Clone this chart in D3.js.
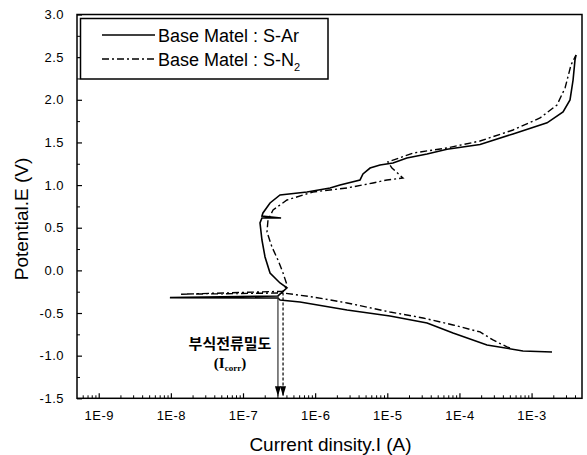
<!DOCTYPE html>
<html><head><meta charset="utf-8">
<script src="https://cdn.jsdelivr.net/npm/d3@7"></script>
<style>
html,body{margin:0;padding:0;background:#fff;}
svg{display:block;font-family:"Liberation Sans",Arial,sans-serif;}
</style></head>
<body><svg id="c" width="587" height="455"></svg>
<script>
// ---- data (current in A, potential in V) ----
const seriesNames = ["Base Matel : S-Ar", "Base Matel : S-N"];
const arCurrent = [1.92e-3,7.60e-4,2.41e-4,8.15e-5,3.56e-5,1.09e-5,2.77e-6,6.17e-7,3.26e-7,3.05e-7,9.7e-9,3.05e-7,
  4.07e-7,3.26e-7,2.37e-7,2.02e-7,1.83e-7,1.72e-7,1.83e-7,3.37e-7,1.83e-7,1.89e-7,2.37e-7,3.26e-7,7.71e-7,
  1.61e-6,2.21e-6,4.19e-6,4.60e-6,5.77e-6,7.93e-6,1.20e-5,1.87e-5,3.56e-5,6.73e-5,1.93e-4,5.53e-4,1.64e-3,
  2.73e-3,3.41e-3,3.76e-3,4.00e-3,4.13e-3];
const arPotential = [-0.957,-0.945,-0.875,-0.734,-0.617,-0.535,-0.464,-0.370,-0.347,-0.324,-0.320,-0.300,
  -0.206,-0.148,-0.031,0.157,0.356,0.556,0.614,0.614,0.637,0.673,0.790,0.884,0.919,
  0.966,1.001,1.060,1.130,1.200,1.236,1.259,1.318,1.365,1.420,1.475,1.600,1.730,
  1.857,1.998,2.232,2.467,2.525];
const n2Current = [5.02e-4,4.56e-4,2.92e-4,1.93e-4,8.15e-5,3.13e-5,1.09e-5,2.77e-6,9.33e-7,3.59e-7,1.34e-8,3.59e-7,
  4.07e-7,3.59e-7,3.05e-7,2.52e-7,2.15e-7,2.22e-7,2.61e-7,4.07e-7,9.33e-7,2.77e-6,6.34e-6,9.91e-6,1.65e-5,
  1.16e-5,1.02e-5,2.28e-5,6.73e-5,1.93e-4,5.53e-4,1.31e-3,2.25e-3,2.91e-3,3.52e-3,4.13e-3];
const n2Potential = [-0.910,-0.898,-0.816,-0.722,-0.640,-0.558,-0.488,-0.382,-0.312,-0.265,-0.280,-0.245,
  -0.171,-0.031,0.122,0.274,0.450,0.591,0.708,0.825,0.919,0.966,1.025,1.060,1.083,
  1.200,1.271,1.376,1.435,1.517,1.646,1.787,1.939,2.138,2.408,2.525];
const icorrValues = [3.05e-7, 3.59e-7];
const ecorrValues = [-0.30, -0.26];
const xTickValues = [1e-9,1e-8,1e-7,1e-6,1e-5,1e-4,1e-3];
const xTickLabels = ["1E-9","1E-8","1E-7","1E-6","1E-5","1E-4","1E-3"];
const yTickValues = [-1.5,-1.0,-0.5,0.0,0.5,1.0,1.5,2.0,2.5,3.0];
const yTickLabels = ["-1.5","-1.0","-0.5","0.0","0.5","1.0","1.5","2.0","2.5","3.0"];

const svg = d3.select("#c");
const L = 77, R = 582, T = 14.5, B = 398.3;
const x = d3.scaleLog().domain([5e-10, 5e-3]).range([L, R]);
const y = d3.scaleLinear().domain([-1.5, 3.0]).range([B, T]);

// minor ticks
const minorX = [];
for (let e = -10; e <= -3; e++) for (let m = 2; m <= 9; m++) { const v = m * Math.pow(10, e); if (v > 5.01e-10 && v < 4.99e-3) minorX.push(v); }
const minorY = d3.range(-1.25, 3.0, 0.5);

svg.append("g").attr("transform", `translate(0,${B})`)
  .call(d3.axisBottom(x).tickValues(minorX).tickSize(-3).tickFormat(""))
  .call(g => g.select(".domain").remove())
  .selectAll("line").attr("stroke", "#000").attr("stroke-width", 1);
svg.append("g").attr("transform", `translate(0,${B})`)
  .call(d3.axisBottom(x).tickValues(xTickValues).tickSize(-5).tickPadding(12.5)
    .tickFormat((d, i) => xTickLabels[i]))
  .call(g => g.select(".domain").remove())
  .call(g => g.selectAll("line").attr("stroke", "#000").attr("stroke-width", 1.2))
  .call(g => g.selectAll("text").attr("font-size", 13).attr("fill", "#000")
    .attr("font-family", "Liberation Sans, Arial, sans-serif").attr("letter-spacing", 0.5));

svg.append("g").attr("transform", `translate(${L},0)`)
  .call(d3.axisLeft(y).tickValues(minorY).tickSize(-3).tickFormat(""))
  .call(g => g.select(".domain").remove())
  .selectAll("line").attr("stroke", "#000");
svg.append("g").attr("transform", `translate(${L},0)`)
  .call(d3.axisLeft(y).tickValues(yTickValues).tickSize(-5).tickPadding(13)
    .tickFormat((d, i) => yTickLabels[i]))
  .call(g => g.select(".domain").remove())
  .call(g => g.selectAll("line").attr("stroke", "#000").attr("stroke-width", 1.2))
  .call(g => g.selectAll("text").attr("font-size", 13).attr("fill", "#000")
    .attr("font-family", "Liberation Sans, Arial, sans-serif").attr("letter-spacing", 0.5));

// frame
svg.append("rect").attr("x", L).attr("y", T).attr("width", R - L).attr("height", B - T)
  .attr("fill", "none").attr("stroke", "#000").attr("stroke-width", 1.5);

// curves
const line = d3.line().x(d => x(d[0])).y(d => y(d[1]));
const arData = arCurrent.map((c, i) => [c, arPotential[i]]);
const n2Data = n2Current.map((c, i) => [c, n2Potential[i]]);
svg.append("path").datum(n2Data).attr("d", line).attr("fill", "none")
  .attr("stroke", "#000").attr("stroke-width", 1.4).attr("stroke-dasharray", "7,3,2,3");
svg.append("path").datum(arData).attr("d", line).attr("fill", "none")
  .attr("stroke", "#000").attr("stroke-width", 1.6);

// Icorr arrows
const defs = svg.append("defs");
defs.append("marker").attr("id", "ah").attr("viewBox", "0 0 6 10").attr("refX", 3).attr("refY", 9)
  .attr("markerWidth", 6).attr("markerHeight", 10).attr("markerUnits", "userSpaceOnUse").attr("orient", "auto-start-reverse")
  .append("path").attr("d", "M0,0 L6,0 L3,10 Z").attr("fill", "#000");
icorrValues.forEach((ic, i) => {
  svg.append("line").attr("x1", x(ic)).attr("x2", x(ic))
    .attr("y1", y(ecorrValues[i])).attr("y2", B - 2)
    .attr("stroke", i === 0 ? "#333" : "#000").attr("stroke-width", 1.2)
    .attr("stroke-dasharray", i === 0 ? null : "3,2");
  svg.append("path")
    .attr("d", `M${x(ic) - 3},${B - 12} L${x(ic) + 3},${B - 12} L${x(ic)},${B - 2} Z`)
    .attr("fill", "#000");
});

// annotation
svg.append("text").attr("x", 230).attr("y", 349).attr("text-anchor", "middle")
  .attr("font-family", "Noto Sans CJK KR, sans-serif").attr("font-weight", "bold").attr("font-size", 15)
  .text("부식전류밀도");
const ann = svg.append("text").attr("x", 230).attr("y", 368).attr("text-anchor", "middle")
  .attr("font-family", "Liberation Serif, Times New Roman, serif").attr("font-weight", "bold").attr("font-size", 15);
ann.append("tspan").text("(I");
ann.append("tspan").attr("font-size", 9).attr("dy", 3).text("corr");
ann.append("tspan").attr("dy", -3).text(")");

// legend
svg.append("rect").attr("x", 80.5).attr("y", 18.5).attr("width", 247.5).attr("height", 60.5)
  .attr("fill", "#fff").attr("stroke", "#000").attr("stroke-width", 1.5);
const legY = [35, 59];
[null, "7,3,2,3"].forEach((da, i) => {
  svg.append("line").attr("x1", 102).attr("x2", 155).attr("y1", legY[i]).attr("y2", legY[i])
    .attr("stroke", "#000").attr("stroke-width", i === 0 ? 1.6 : 1.4).attr("stroke-dasharray", da);
  const t = svg.append("text").attr("x", 158).attr("y", legY[i] + 6.5).attr("font-size", 18)
    .attr("fill", "#000").text(seriesNames[i]);
  if (i === 1) t.append("tspan").attr("font-size", 11).attr("dy", 5).text("2");
});

// axis titles
svg.append("text").attr("x", (L + R) / 2 + 1).attr("y", 451).attr("text-anchor", "middle")
  .attr("font-size", 19).attr("fill", "#000").text("Current dinsity.I (A)");
svg.append("text").attr("transform", "translate(28,219) rotate(-90)").attr("text-anchor", "middle")
  .attr("font-size", 19).attr("fill", "#000").text("Potential.E (V)");
</script></body></html>
